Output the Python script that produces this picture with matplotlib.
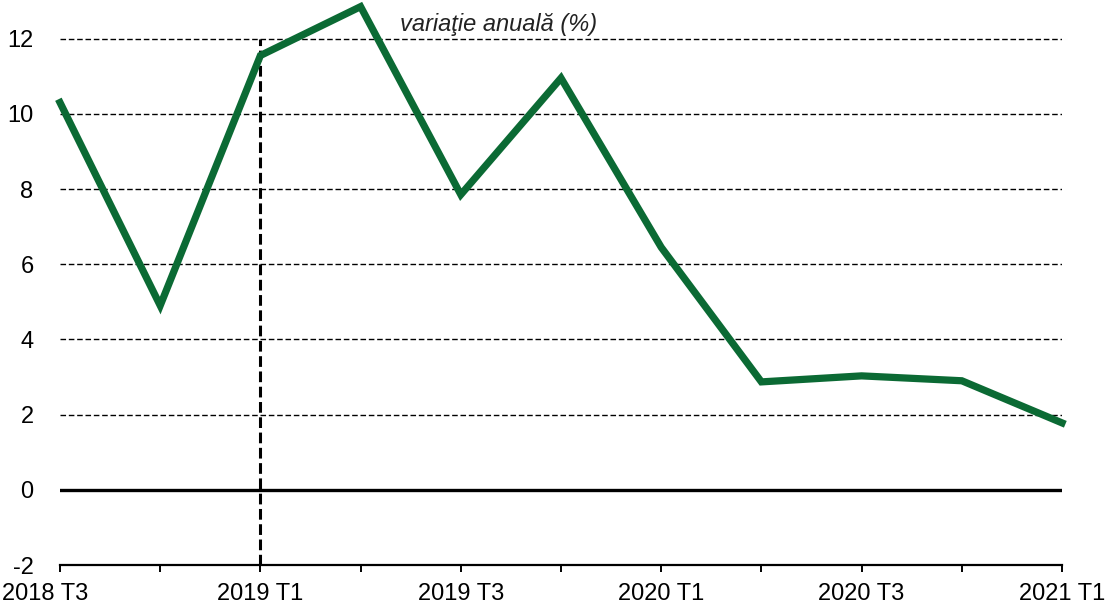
import matplotlib
matplotlib.use("Agg")
import matplotlib.pyplot as plt
import matplotlib.transforms as mtransforms

quarters = ["2018 T3", "2018 T4", "2019 T1", "2019 T2", "2019 T3", "2019 T4",
            "2020 T1", "2020 T2", "2020 T3", "2020 T4", "2021 T1"]
values = [10.3, 4.9, 11.55, 12.85, 7.85, 10.95, 6.45, 2.87, 3.03, 2.9, 1.78]
yticks = [-2, 0, 2, 4, 6, 8, 10, 12]
title = "variaţie anuală (%)"

plt.rcParams['font.family'] = ['Liberation Sans', 'DejaVu Sans']

fig = plt.figure(figsize=(11.10, 6.07), dpi=100)
ax = fig.add_axes([60/1110, (607-565)/607, (1062-60)/1110, 564/607])

x = list(range(len(quarters)))
ax.set_xlim(0, len(quarters) - 1)
ax.set_ylim(-2, 13)

for y in yticks[2:]:
    ax.axhline(y, color='black', lw=1.0, ls=(0, (4, 2)), zorder=1)
ax.axhline(0, color='black', lw=2.4, zorder=2)
ax.plot([2, 2], [-2, 12], color='black', lw=2.2, ls=(0, (3.5, 1.5)), zorder=2)

ax.plot(x, values, color='#0b6a34', lw=5.2, zorder=3, clip_on=False, solid_joinstyle='miter')

ax.text(4.38, 12.38, title, style='italic', fontsize=17, ha='center', va='center', color='#222222')

for s in ['top', 'right', 'left']:
    ax.spines[s].set_visible(False)
ax.spines['bottom'].set_linewidth(1.6)

ax.set_yticks(yticks)
ax.set_yticklabels([str(v) for v in yticks], fontsize=17)
ax.tick_params(axis='y', length=0, pad=19)
ax.set_xticks(x)
ax.set_xticklabels([q if i % 2 == 0 else "" for i, q in enumerate(quarters)], fontsize=17)
ax.tick_params(axis='x', direction='out', length=5, width=1.4, pad=8)
labs = ax.get_xticklabels()
labs[0].set_ha('left')
labs[0].set_transform(labs[0].get_transform() + mtransforms.ScaledTranslation(-58/100, 0, fig.dpi_scale_trans))

fig.savefig("out.png", dpi=100)
